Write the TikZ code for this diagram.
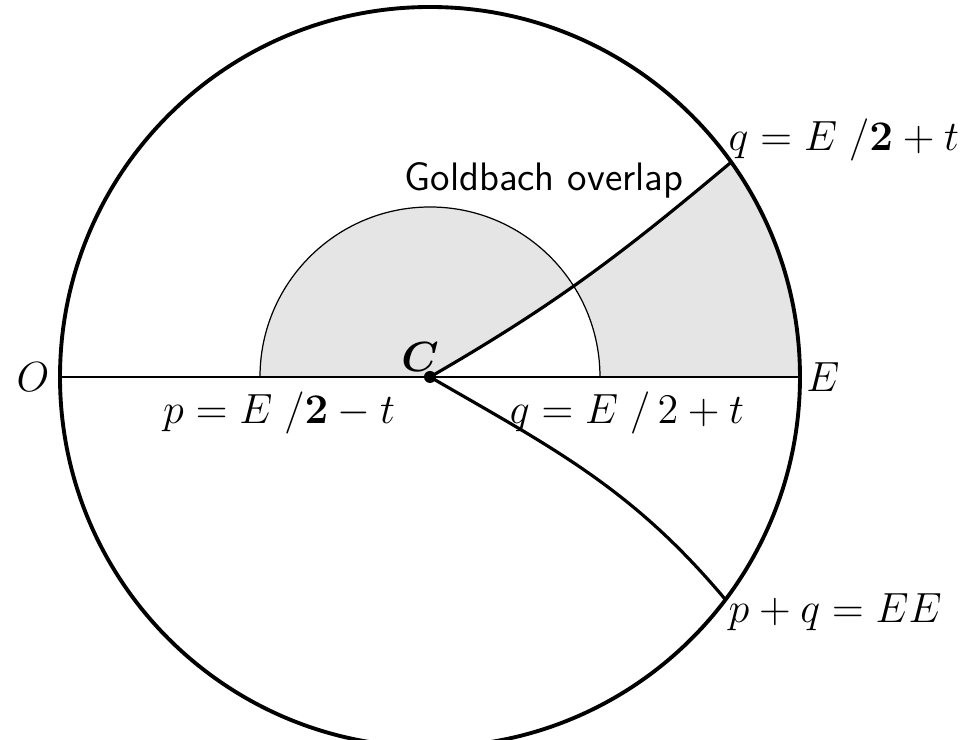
\documentclass[tikz,border=0pt]{standalone}
\usepackage{bm}
\begin{document}
\begin{tikzpicture}[font=\fontsize{12}{14}\selectfont]
\useasboundingbox (-4.3,-3.63) rectangle (5.3,3.77);

\coordinate (C) at (0,0);
\coordinate (O) at (180:3.7);
\coordinate (E) at (0:3.7);
\coordinate (Q) at (35.5:3.7);
\coordinate (P) at (-37:3.7);

% shaded overlap of half disk and wedge
\fill[gray!20, even odd rule] (-1.7,0) arc (180:0:1.7) -- cycle
  (C) -- (E) arc (0:35.5:3.7) to[out=220,in=30] (C);

% inner half circle
\draw[line width=0.35pt] (-1.7,0) arc (180:0:1.7);

% diameter
\draw[line width=0.4pt] (O) -- (E);
\draw[line width=0.8pt] (1.7,0) -- (E);

% outer circle
\draw[line width=1.1pt] (C) circle (3.7);

% paths from C
\draw[line width=0.9pt] (C) to[out=30,in=220] (Q);
\draw[line width=0.9pt] (C) to[out=-30,in=130] (P);
\fill (C) circle (0.06);

\node (labO) at (-3.97,0) {\(O\)};
\node (labE) at (3.93,0) {\(E\)};
\node (labC) at (-0.1,0.2) {\(\bm{C}\)};
\node (labp) at (-1.51,-0.36) {\(p=E\;/\bm{2}-t\)};
\node (labq) at (1.97,-0.36) {\(q=E\;/\,2+t\)};
\node[anchor=west, inner sep=0pt] (labQ) at (2.98,2.37) {\(q=E\;/\bm{2}+t\)};
\node[anchor=west, inner sep=0pt] (labP) at (2.98,-2.35) {\(p+q=EE\)};
\node[font=\fontsize{11.3}{13}\selectfont\sffamily] (labG) at (1.14,1.97) {Goldbach overlap};

\end{tikzpicture}
\end{document}
